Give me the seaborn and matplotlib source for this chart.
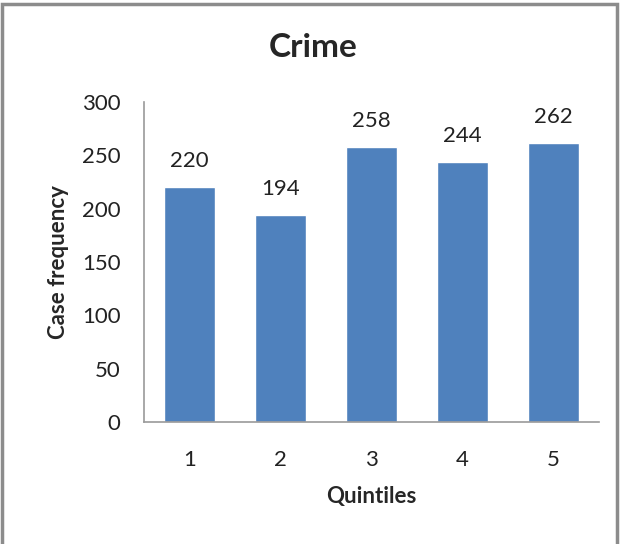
import matplotlib
matplotlib.use("Agg")
import matplotlib.pyplot as plt
import seaborn as sns
import pandas as pd
from matplotlib.patches import Rectangle

quintiles = ["1", "2", "3", "4", "5"]
frequency = [220, 194, 258, 244, 262]
y_ticks = [0, 50, 100, 150, 200, 250, 300]

sns.set_theme(style="white")
plt.rcParams["font.family"] = ["Lato", "DejaVu Sans"]

df = pd.DataFrame({"Quintiles": quintiles, "Case frequency": frequency})

fig = plt.figure(figsize=(6.21, 5.44), dpi=100)
ax = fig.add_axes([0.2319, 0.2243, 0.7327, 0.5882])

sns.barplot(data=df, x="Quintiles", y="Case frequency", color="#4F81BD",
            saturation=1, width=0.57, ax=ax)

for i, v in enumerate(frequency):
    ax.text(i, v + 15, str(v), ha="center", va="bottom", fontsize=16, color="#222222")

ax.set_ylim(0, 300)
ax.set_yticks(y_ticks)
ax.set_yticklabels([str(t) for t in y_ticks], fontsize=16, color="#222222")
ax.tick_params(axis="x", labelsize=16, colors="#222222", pad=20)
ax.tick_params(axis="y", pad=17, length=0)
ax.tick_params(axis="x", length=0)
ax.set_xlim(-0.5, 4.5)

for s in ["top", "right"]:
    ax.spines[s].set_visible(False)
for s in ["left", "bottom"]:
    ax.spines[s].set_color("#9a9a9a")
    ax.spines[s].set_linewidth(1.2)

ax.set_xlabel("Quintiles", fontsize=16, fontweight="bold", labelpad=12)
ax.set_ylabel("Case frequency", fontsize=16, fontweight="bold", labelpad=9)
fig.text(0.505, 0.912, "Crime", ha="center", va="center", fontsize=24, fontweight="bold")

# outer frame
fig.patches.append(Rectangle((0.004, -0.01), 0.99, 1.002, transform=fig.transFigure,
                             fill=False, edgecolor="#8c8c8c", linewidth=2.5))

fig.savefig("out.png", dpi=100)
